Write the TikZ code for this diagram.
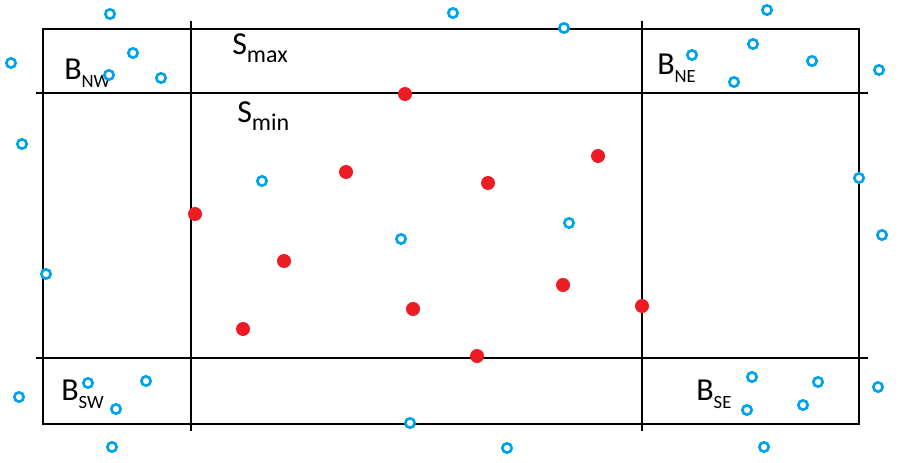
\documentclass[tikz,border=0pt]{standalone}
\usepackage{fontspec}
\setmainfont{Carlito}
\usepackage{xcolor}
\definecolor{ptred}{HTML}{ED1C24}
\definecolor{ptblue}{HTML}{00A2E8}
\newcommand{\sublbl}[3]{#1\raisebox{-6pt}{\fontsize{#3}{#3}\selectfont #2}}

\begin{document}
\begin{tikzpicture}[
    x=0.75pt, y=-0.75pt,
    grid/.style={black, line width=0.8pt},
    inpt/.style={circle, fill=ptred, inner sep=0pt, minimum size=10.5pt},
    outpt/.style={circle, draw=ptblue, fill=white, line width=2pt, inner sep=0pt, minimum size=7pt},
    lbl/.style={anchor=base west, inner sep=0pt, font=\fontsize{24}{24}\selectfont},
]
\useasboundingbox (0,0) rectangle (905,463);

% outer box and the S_min split
\draw[grid] (43,29) rectangle (859,424);
\draw[grid] (36,93) -- (868,93);
\draw[grid] (36,358) -- (868,358);
\draw[grid] (191,21) -- (191,431);
\draw[grid] (642,21) -- (642,431);

\node[lbl] (bnw) at (64,80)  {\sublbl{B}{NW}{14}};
\node[lbl] (bne) at (657,75) {\sublbl{B}{NE}{14}};
\node[lbl] (bsw) at (61,400) {\sublbl{B}{SW}{14}};
\node[lbl] (bse) at (696,400) {\sublbl{B}{SE}{14}};
\node[lbl] (smax) at (232,55)  {\sublbl{S}{max}{18}};
\node[lbl] (smin) at (237,123) {\sublbl{S}{min}{18}};

% points outside S_min
\foreach \px/\py [count=\i] in {110/14, 11/63, 133/53, 109/75, 161/78, 22/144,
    767/10, 692/55, 753/44, 812/61, 734/82, 879/70, 453/13, 564/28,
    19/397, 88/383, 146/381, 116/409, 112/447,
    752/377, 818/382, 878/387, 747/410, 803/405, 764/447,
    410/423, 507/448, 859/178, 882/235, 46/274,
    262/181, 401/239, 569/223}
    \node[outpt] (o\i) at (\px,\py) {};

% points inside S_min
\foreach \px/\py [count=\i] in {405/94, 346/172, 195/214, 284/261, 413/309, 243/329,
    598/156, 488/183, 563/285, 642/306, 477/356}
    \node[inpt] (p\i) at (\px,\py) {};
\end{tikzpicture}
\end{document}
